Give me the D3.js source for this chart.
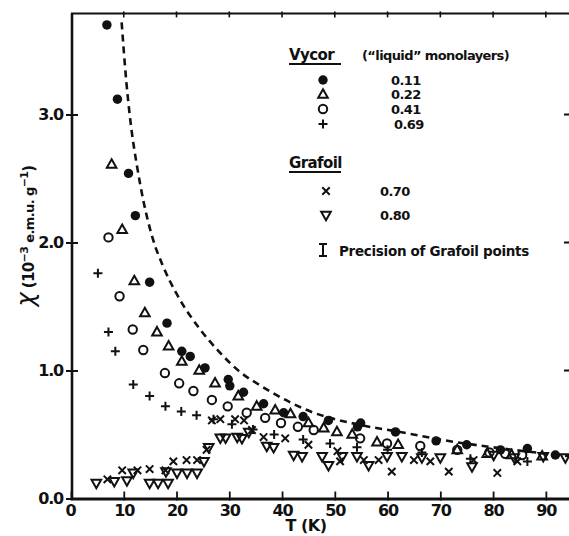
<!DOCTYPE html>
<html>
<head>
<meta charset="utf-8">
<script src="https://cdn.jsdelivr.net/npm/d3@7"></script>
<style>
  html, body { margin: 0; padding: 0; background: #fff; }
  svg { display: block; }
  text { font-family: "DejaVu Sans", sans-serif; font-weight: bold; fill: #111; }
  .axis path, .axis line { stroke: #111; }
</style>
</head>
<body>
<svg id="chart" width="569" height="536"></svg>
<script>
// --- data: [T (K), chi (1e-3 emu/g)] ---
const vycor011 = [[6.8,3.70],[8.8,3.12],[10.9,2.54],[12.2,2.21],[14.9,1.69],[18.2,1.37],[21.0,1.15],[22.6,1.11],
  [25.4,1.02],[29.8,0.93],[30.1,0.88],[32.7,0.83],[36.5,0.74],[40.3,0.67],[44.0,0.64],[48.8,0.61],[54.3,0.56],
  [54.9,0.59],[61.5,0.52],[69.2,0.45],[75.0,0.42],[81.4,0.38],[86.5,0.39],[91.8,0.34]];
const vycor022 = [[7.7,2.61],[9.7,2.10],[12.0,1.70],[14.0,1.45],[16.3,1.30],[18.5,1.19],[21.0,1.07],[24.3,1.00],
  [27.3,0.90],[31.7,0.80],[35.2,0.72],[38.7,0.69],[41.6,0.66],[45.0,0.59],[47.9,0.55],[50.4,0.52],[53.3,0.50],
  [58.0,0.44],[62.0,0.42],[73.2,0.38],[78.9,0.35],[83.5,0.34],[89.3,0.33]];
const vycor041 = [[7.1,2.04],[9.2,1.58],[11.7,1.32],[13.7,1.16],[17.8,0.98],[20.5,0.90],[23.2,0.84],[26.7,0.77],
  [29.7,0.72],[33.3,0.67],[36.8,0.63],[39.8,0.59],[43.0,0.56],[46.0,0.535],[54.8,0.47],[59.9,0.43],[66.2,0.41],
  [73.2,0.38],[79.3,0.36],[82.3,0.35],[85.5,0.34]];
const vycor069 = [[5.1,1.76],[7.1,1.30],[8.4,1.15],[11.8,0.89],[14.9,0.80],[17.9,0.72],[20.9,0.68],[23.8,0.65],
  [27.0,0.62],[30.5,0.58],[34.5,0.54],[38.5,0.50],[44.0,0.46],[49.1,0.43],[54.2,0.40],[60.0,0.38],[66.5,0.36],
  [75.7,0.31],[86.5,0.29]];
const grafoil070 = [[6.9,0.15],[9.7,0.22],[12.6,0.22],[14.9,0.23],[17.9,0.22],[19.4,0.29],[21.9,0.30],[23.9,0.30],
  [25.7,0.38],[26.7,0.61],[28.3,0.62],[31.1,0.62],[32.8,0.61],[34.3,0.535],[36.5,0.48],[40.6,0.47],[45.0,0.42],
  [50.5,0.37],[51.0,0.29],[55.5,0.30],[58.3,0.30],[60.8,0.21],[65.0,0.30],[68.1,0.29],[71.6,0.21],[76.3,0.30],
  [80.8,0.20],[84.6,0.29]];
const grafoil080 = [[4.8,0.12],[8.2,0.135],[10.6,0.14],[11.8,0.20],[14.9,0.12],[16.5,0.12],[18.4,0.12],[18.0,0.21],
  [20.1,0.20],[22.0,0.20],[23.9,0.20],[25.2,0.29],[26.1,0.40],[28.3,0.475],[29.3,0.475],[31.5,0.48],[32.4,0.47],
  [33.7,0.52],[37.1,0.41],[38.4,0.40],[42.2,0.34],[43.8,0.33],[47.6,0.33],[48.8,0.26],[51.4,0.33],[54.2,0.33],
  [56.4,0.26],[59.9,0.33],[62.7,0.33],[66.5,0.32],[70.0,0.32],[76.0,0.25],[80.1,0.34],[84.0,0.32],[89.5,0.33],[93.7,0.32]];
// dashed curve, traced
const curveT = [9.6, 10.5, 11.5, 12.5, 13.7, 15.5, 17.5, 20, 24.5, 28, 32, 36, 41.6, 46, 51, 56, 62.4, 70, 80, 94.5];
const curveV = [3.72, 3.25, 2.87, 2.60, 2.33, 2.03, 1.81, 1.60, 1.32, 1.15, 0.99, 0.88, 0.75, 0.67, 0.61, 0.565, 0.52, 0.46, 0.40, 0.33];

const xTicks = [0, 10, 20, 30, 40, 50, 60, 70, 80, 90];
const yTicks = [0, 1, 2, 3];

// marker shapes, relative to the point
const SHAPES = {
  dot:   { d: d3.symbol(d3.symbolCircle, 70)(), fill: "#111", sw: 0 },
  tri:   { d: "M0,-5.2L4.8,3.3L-4.8,3.3Z", fill: "none", sw: 2 },
  ring:  { d: "M4.2,0A4.2,4.2 0 1,1 -4.2,0A4.2,4.2 0 1,1 4.2,0Z", fill: "none", sw: 2 },
  plus:  { d: "M-4.5,0H4.5M0,-4.5V4.5", fill: "none", sw: 2 },
  cross: { d: "M-3.7,-3.7L3.7,3.7M3.7,-3.7L-3.7,3.7", fill: "none", sw: 2 },
  tdown: { d: "M0,5.2L4.8,-3.3L-4.8,-3.3Z", fill: "none", sw: 2 }
};

const series = [
  { pts: vycor069, shape: "plus" },
  { pts: grafoil070, shape: "cross" },
  { pts: grafoil080, shape: "tdown" },
  { pts: vycor041, shape: "ring" },
  { pts: vycor022, shape: "tri" },
  { pts: vycor011, shape: "dot" }
];

const svg = d3.select("#chart");
const x = d3.scaleLinear().domain([0, 94.5]).range([71, 569.6]);
const y = d3.scaleLinear().domain([0, 3.79]).range([498.5, 13.4]);

// frame: top line + right ticks
svg.append("line").attr("x1", x(0)).attr("x2", 569).attr("y1", y(3.79)).attr("y2", y(3.79))
  .attr("stroke", "#111").attr("stroke-width", 2);
svg.append("g").selectAll("line").data(xTicks.slice(1)).join("line")
  .attr("x1", d => x(d)).attr("x2", d => x(d)).attr("y1", y(3.79) - 2).attr("y2", y(3.79) + 4)
  .attr("stroke", "#111").attr("stroke-width", 1.6);
svg.append("g").selectAll("line").data([1, 2, 3]).join("line")
  .attr("x1", 564).attr("x2", 569).attr("y1", d => y(d)).attr("y2", d => y(d))
  .attr("stroke", "#111").attr("stroke-width", 2);

// x axis
const gx = svg.append("g").attr("class", "axis")
  .attr("transform", `translate(0,${y(0)})`)
  .call(d3.axisBottom(x).tickValues(xTicks).tickSizeInner(-7).tickSizeOuter(0).tickPadding(4));
gx.select(".domain").attr("stroke-width", 3);
gx.selectAll(".tick line").attr("y1", 2).attr("stroke-width", 1.8);
gx.selectAll(".tick text").attr("font-size", 16).attr("font-family", "DejaVu Sans").attr("font-weight", "bold")
  .attr("letter-spacing", -1).attr("y", 6).attr("fill", "#111");
gx.select(".tick text").attr("dx", -1);

// y axis
const gy = svg.append("g").attr("class", "axis")
  .attr("transform", `translate(${x(0) + 1},0)`)
  .call(d3.axisLeft(y).tickValues(yTicks).tickFormat(d3.format(".1f")).tickSizeInner(6).tickSizeOuter(0).tickPadding(3));
gy.select(".domain").attr("stroke-width", 2.6);
gy.selectAll(".tick line").attr("x1", 6).attr("stroke-width", 2);
gy.selectAll(".tick text").attr("font-size", 16).attr("font-family", "DejaVu Sans").attr("font-weight", "bold")
  .attr("letter-spacing", -1.2).attr("fill", "#111");
gy.select(".domain").attr("d", `M0,${y(0)}V${y(3.79)}`);

// dashed theory curve
svg.append("defs").append("clipPath").attr("id", "plot")
  .append("rect").attr("x", x(0)).attr("y", y(3.79) + 2).attr("width", 569 - x(0)).attr("height", y(0) - y(3.79));
const line = d3.line().x(d => x(d[0])).y(d => y(d[1])).curve(d3.curveMonotoneX);
svg.append("path")
  .attr("clip-path", "url(#plot)")
  .attr("d", line(curveT.map((t, i) => [t, curveV[i]])))
  .attr("fill", "none").attr("stroke", "#111").attr("stroke-width", 2.6)
  .attr("stroke-dasharray", "7,5");

// points
series.forEach(s => {
  const sh = SHAPES[s.shape];
  svg.append("g").selectAll("path").data(s.pts).join("path")
    .attr("transform", d => `translate(${x(d[0])},${y(d[1])})`)
    .attr("d", sh.d)
    .attr("fill", sh.fill)
    .attr("stroke", "#111")
    .attr("stroke-width", sh.sw);
});

// axis titles
svg.append("text").attr("x", 306).attr("y", 531).attr("text-anchor", "middle")
  .attr("font-size", 16).attr("letter-spacing", -0.5).text("T (K)");
const yl = svg.append("text").attr("transform", "translate(34,236) rotate(-90)").attr("text-anchor", "middle")
  .attr("font-size", 15).attr("letter-spacing", -0.6);
yl.append("tspan").attr("font-size", 24).attr("font-style", "italic").attr("font-weight", "normal").text("χ");
yl.append("tspan").text(" (10");
yl.append("tspan").attr("font-size", 11).attr("dy", -6).text("−3");
yl.append("tspan").attr("dy", 6).attr("font-size", 13).text(" e.m.u. g");
yl.append("tspan").attr("font-size", 11).attr("dy", -6).text("−1");
yl.append("tspan").attr("dy", 6).text(")");

// legend
const legend = svg.append("g");
const lt = (tx, ty, s, size = 14) => legend.append("text").attr("x", tx).attr("y", ty)
  .attr("font-size", size).attr("letter-spacing", -0.6).text(s);
lt(289, 60, "Vycor", 15);
legend.append("line").attr("x1", 289).attr("x2", 341).attr("y1", 64).attr("y2", 64).attr("stroke", "#111").attr("stroke-width", 1.8);
lt(362, 60, "(\u201Cliquid\u201D monolayers)", 13);
lt(289, 168, "Grafoil", 15);
legend.append("line").attr("x1", 289).attr("x2", 341).attr("y1", 172).attr("y2", 172).attr("stroke", "#111").attr("stroke-width", 1.8);

const legendRows = [
  { shape: "dot", label: "0.11", sy: 80, tx: 391 },
  { shape: "tri", label: "0.22", sy: 94.5, tx: 391 },
  { shape: "ring", label: "0.41", sy: 109, tx: 391 },
  { shape: "plus", label: "0.69", sy: 124, tx: 394 },
  { shape: "cross", label: "0.70", sy: 191, tx: 380 },
  { shape: "tdown", label: "0.80", sy: 215, tx: 380 }
];
legendRows.forEach(r => {
  const sh = SHAPES[r.shape];
  legend.append("path").attr("transform", `translate(${r.shape === "cross" || r.shape === "tdown" ? 326 : 323},${r.sy})`)
    .attr("d", sh.d).attr("fill", sh.fill).attr("stroke", "#111").attr("stroke-width", sh.sw);
  lt(r.tx, r.sy + 4.5, r.label, 13);
});
legend.append("path").attr("d", "M319,244H327M323,244V256M319,256H327")
  .attr("fill", "none").attr("stroke", "#111").attr("stroke-width", 2);
lt(339, 256, "Precision of Grafoil points", 13.5).attr("letter-spacing", -0.3);
</script>
</body>
</html>
